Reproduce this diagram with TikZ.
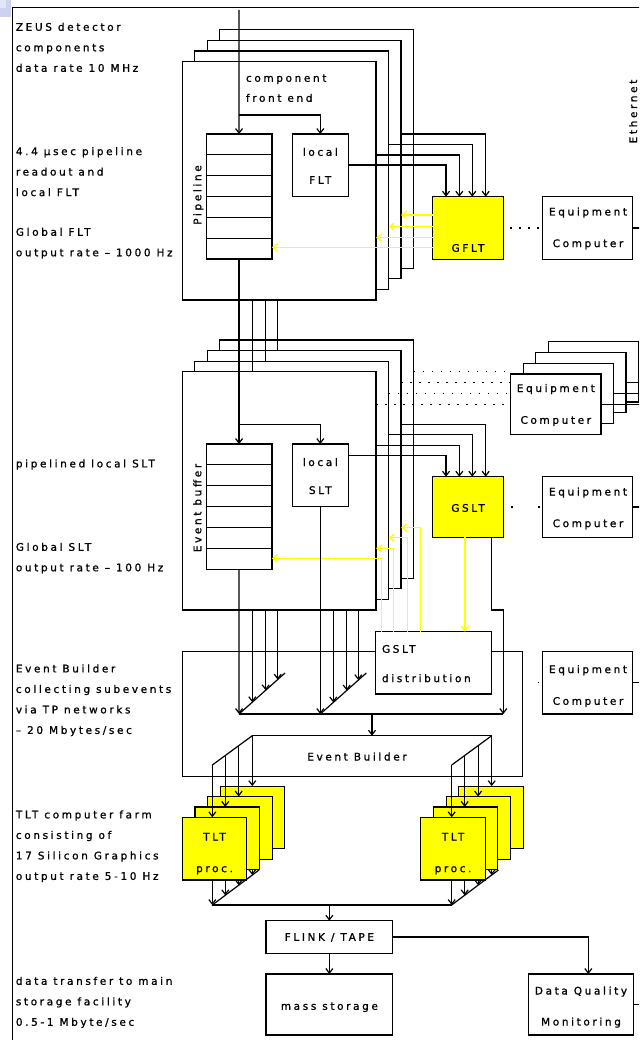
\documentclass[tikz,border=0pt]{standalone}
\usepackage{fontspec}
\newfontfamily\df[LetterSpace=25,FakeBold=1]{DejaVu Sans}
\usetikzlibrary{arrows.meta,calc}
\definecolor{ylw}{RGB}{255,255,0}
\definecolor{cornerA}{RGB}{206,210,236}
\definecolor{cornerB}{RGB}{226,229,246}
\begin{document}
\begin{tikzpicture}[x=1pt,y=-1pt,line width=1.2pt,
 box/.style={draw=black,fill=white,inner sep=0pt,outer sep=0pt,anchor=north west},
 ybox/.style={box,fill=ylw},
 arr/.style={-{Straight Barb[length=4.5pt,width=7pt]}},
 yarr/.style={arr,draw=ylw,line width=1.4pt},
 dotline/.style={dash pattern=on 1.5pt off 7.5pt},
 lbl/.style={font=\df\fontsize{10.5}{12}\selectfont,inner sep=0pt,outer sep=0pt,anchor=base},
 lblw/.style={lbl,anchor=base west},
 para/.style={font=\df\fontsize{10.5}{20.5}\selectfont,inner sep=0pt,align=left,anchor=north west},
 rot/.style={font=\df\fontsize{10.5}{12}\selectfont,inner sep=0pt,rotate=90,text height=8pt,text depth=2.5pt},
 fbox/.style={box,minimum width=193.7pt,minimum height=238.3pt},
 tbox/.style={ybox,minimum width=64.4pt,minimum height=62.7pt},
 ebox/.style={box,minimum width=90.3pt,minimum height=60.3pt},
]
\useasboundingbox (0,0) rectangle (639,1040);
\clip (0,0) rectangle (639,1040);
% slide corner and frame
\fill[cornerA] (0,0) rectangle (10.5,17);
\fill[cornerB] (0,0) rectangle (6,8.5);
\draw[line width=1.2pt] (12.3,1045) -- (12.3,7.3) -- (645,7.3);

% left column texts
\node[para] (t1) at (15.3,22.2) {ZEUS detector\\components\\data rate 10 MHz};
\node[para] (t2) at (15.3,146.5) {4.4 µsec pipeline\\readout and\\local FLT};
\node[para] (t3) at (15.3,227.2) {Global FLT\\output rate – 1000 Hz};
\node[para] (t4) at (15.3,458.8) {pipelined local SLT};
\node[para] (t5) at (15.3,542.2) {Global SLT\\output rate – 100 Hz};
\node[para] (t6) at (15.3,663.8) {Event Builder\\collecting subevents\\via TP networks\\– 20 Mbytes/sec};
\node[para] (t7) at (15.3,809.8) {TLT computer farm\\consisting of\\17 Silicon Graphics\\output rate 5-10 Hz};
\node[para] (t8) at (15.3,976.2) {data transfer to main\\storage facility\\0.5-1 Mbyte/sec};

% ================= stack 1: component front end =================
\foreach \k in {3,2,1}{\node[fbox] (fe\k) at ({182.3+12.5*\k},{61.7-10.6*\k}) {};}
\node[fbox] (fe0) at (182.3,61.7) {};
\node[lblw] (cf1) at (246,81.8) {component};
\node[lblw] (cf2) at (246,101.8) {front end};
\node[box,minimum width=65.7pt,minimum height=125pt] (pl) at (206.2,134) {};
\foreach \i in {1,...,5}{\draw ($(pl.north west)+(0,{20.83*\i})$) -- ($(pl.north east)+(0,{20.83*\i})$);}
\node[rot] (plt) at (198.5,195) {Pipeline};
\node[box,minimum width=56pt,minimum height=62.7pt] (lf) at (292.3,134) {};
\node[lbl] (lf1) at (320.3,155.8) {local};
\node[lbl] (lf2) at (320.3,183.8) {FLT};
\coordinate (in) at (239.05,10);
\draw[arr] (in) -- (pl.north);
\draw[arr] (239.05,115) -| (lf.north);

\node[ybox,minimum width=70.6pt,minimum height=62.6pt] (gf) at (432.7,196.7) {};
\node[lbl] (gft) at (468,251.8) {GFLT};
\draw[arr] (lf.east |- 0,165) -| (446,0 |- gf.north);
\draw[arr] (fe0.east |- 0,155) -| (459.3,0 |- gf.north);
\draw[arr] (fe1.east |- 0,144.3) -| (472.3,0 |- gf.north);
\draw[arr] (fe2.east |- 0,134) -| (485.7,0 |- gf.north);
\draw[yarr] (gf.west |- 0,215) -- (fe2.east |- 0,215);
\draw[yarr] (gf.west |- 0,226.7) -- (fe1.east |- 0,226.7);
\draw[yarr] (gf.west |- 0,237.7) -- (fe0.east |- 0,237.7);
\draw[yarr] (gf.west |- 0,247.3) -- (pl.east |- 0,247.3);

\node[box,minimum width=90pt,minimum height=62.6pt] (eq1) at (542.3,196.7) {};
\node[lbl] at (588,215.5) {Equipment};
\node[lbl] at (588,247.1) {Computer};
\draw[dotline,dash phase=2.3pt] (gf.east) -- (eq1.west);
\draw (eq1.east) -- (645,0 |- eq1.east);
\node[rot] (eth) at (634.3,111.5) {Ethernet};

% ================= stack 2: second level =================
\foreach \k in {3,2,1}{\node[fbox] (sl\k) at ({182.3+12.5*\k},{371.7-10.6*\k}) {};}
\node[fbox] (sl0) at (182.3,371.7) {};
\node[box,minimum width=65.7pt,minimum height=125.3pt] (eb) at (206.2,444) {};
\foreach \i in {1,...,5}{\draw ($(eb.north west)+(0,{20.88*\i})$) -- ($(eb.north east)+(0,{20.88*\i})$);}
\node[rot] (ebt) at (198.5,508) {Event buffer};
\node[box,minimum width=56pt,minimum height=62.7pt] (ls) at (292.3,444) {};
\node[lbl] (ls1) at (320.3,466) {local};
\node[lbl] (ls2) at (320.3,494) {SLT};

\draw[arr] (pl.south) -- (eb.north);
\draw[arr] (239.05,424.5) -| (ls.north);
\draw (252.3,0 |- fe0.south) -- (252.3,0 |- sl0.north);
\draw (265.7,0 |- fe0.south) -- (265.7,0 |- sl1.north);
\draw (277.7,0 |- fe0.south) -- (277.7,0 |- sl2.north);

\node[ybox,minimum width=70.6pt,minimum height=60.6pt] (gs) at (432.7,476.7) {};
\node[lbl] (gst) at (468,511.8) {GSLT};
\draw[arr] (ls.east |- 0,455.7) -| (446,0 |- gs.north);
\draw[arr] (sl0.east |- 0,445.7) -| (459.3,0 |- gs.north);
\draw[arr] (sl1.east |- 0,434.3) -| (472.3,0 |- gs.north);
\draw[arr] (sl2.east |- 0,424.3) -| (485.7,0 |- gs.north);

% equipment computer stack
\foreach \k in {3,2,1}{\node[ebox] (ek\k) at ({510.7+12.5*\k},{374-10.77*\k}) {};}
\node[ebox] (ek0) at (510.7,374) {};
\node[lbl] at (555.8,392) {Equipment};
\node[lbl] at (555.8,423.8) {Computer};
\foreach \k in {0,1,2}{\draw (ek\k.east) -- (645,0 |- ek\k.east);}
\draw[dotline] (sl3.east |- ek3.west) -- (ek0.west |- ek3.west);
\draw[dotline] (sl2.east |- ek2.west) -- (ek0.west |- ek2.west);
\draw[dotline] (sl1.east |- ek1.west) -- (ek0.west |- ek1.west);
\draw[dotline] (sl0.east |- ek0.west) -- (ek0.west);

\node[box,minimum width=90pt,minimum height=60.6pt] (eq2) at (542.3,476.7) {};
\node[lbl] at (588,495.5) {Equipment};
\node[lbl] at (588,527.1) {Computer};
\draw[dash pattern=on 1.5pt off 25.5pt,dash phase=19.3pt] (gs.east) -- (eq2.west);
\draw (eq2.east) -- (645,0 |- eq2.east);

% ================= event builder =================
\node[box,minimum width=340pt,minimum height=125pt] (eo) at (182.3,651.7) {};
\node[box,minimum width=116pt,minimum height=62.3pt] (gd) at (375.7,631.7) {};
\node[lblw] (gd1) at (382,652.8) {GSLT};
\node[lblw] (gd2) at (382,682.1) {distribution};

\draw[yarr] (465,0 |- gs.south) -- (465,0 |- gd.north);
\draw[yarr] (420.7,0 |- gd.north) |- (sl2.east |- 0,527.7);
\draw[yarr] (407.3,0 |- gd.north) |- (sl1.east |- 0,537.7);
\draw[yarr] (393.3,0 |- gd.north) |- (sl0.east |- 0,548.3);
\draw[yarr] (381.7,0 |- gd.north) |- (eb.east |- 0,558.3);

\node[box,minimum width=90pt,minimum height=62.3pt] (eq3) at (542.3,651.7) {};
\node[lbl] at (588,673.1) {Equipment};
\node[lbl] at (588,704.8) {Computer};
\draw[dash pattern=on 1.5pt off 30pt,dash phase=16.3pt] (eo.east |- eq3.west) -- (eq3.west);
\draw (eq3.east) -- (645,0 |- eq3.east);

\coordinate (dA0) at (239.05,714);
\coordinate (dA1) at (285,673);
\coordinate (dB0) at (320.3,714);
\coordinate (dB1) at (366.3,673);
\coordinate (bus2) at (503.3,714);
\draw (dA0) -- (dA1);
\draw (dB0) -- (dB1);
\draw (dA0) -- (bus2);
\draw[arr] (eb.south) -- (dA0);
\draw[arr] (252.3,0 |- sl0.south) -- (252.3,702.2);
\draw[arr] (265.7,0 |- sl0.south) -- (265.7,690.3);
\draw[arr] (277.7,0 |- sl0.south) -- (277.7,679.6);
\draw[arr] (ls.south) -- (dB0);
\draw[arr] (333.3,0 |- sl0.south) -- (333.3,702.4);
\draw[arr] (346.7,0 |- sl0.south) -- (346.7,690.5);
\draw[arr] (358.3,0 |- sl0.south) -- (358.3,680.1);
\draw[arr] (491.7,0 |- gs.south) -- (491.7,610) -| (bus2);

\node[box,minimum width=239.4pt,minimum height=41pt] (ei) at (252.3,735.7) {};
\node[lbl] (eit) at (357,760.5) {Event Builder};
\draw[arr] (ei.north |- dA0) -- (ei.north);

% ================= TLT farms =================
\foreach \k in {3,2,1}{\node[tbox] (tl\k) at ({182.3+12.7*\k},{817.3-10.4*\k}) {};}
\node[tbox] (tl0) at (182.3,817.3) {};
\node[lbl] at (214.5,840.5) {TLT};
\node[lbl] at (214.5,872.1) {proc.};
\foreach \k in {3,2,1}{\node[tbox] (tr\k) at ({420.7+12.7*\k},{817.3-10.4*\k}) {};}
\node[tbox] (tr0) at (420.7,817.3) {};
\node[lbl] at (453.1,840.5) {TLT};
\node[lbl] at (453.1,872.1) {proc.};

\coordinate (eL) at (212.3,765);
\coordinate (eR) at (451.7,765);
\draw (ei.north west) -- (eL);
\draw (ei.north east) -- (eR);
\draw[arr] (eL) -- (212.3,0 |- tl0.north);
\draw[arr] (225.3,755.5) -- (225.3,0 |- tl1.north);
\draw[arr] (238.7,745.7) -- (238.7,0 |- tl2.north);
\draw[arr] (ei.north west) -- (252.3,0 |- tl3.north);
\draw[arr] (eR) -- (451.7,0 |- tr0.north);
\draw[arr] (464.7,755.5) -- (464.7,0 |- tr1.north);
\draw[arr] (478.1,745.7) -- (478.1,0 |- tr2.north);
\draw[arr] (ei.north east) -- (491.7,0 |- tr3.north);

\coordinate (oL0) at (212.3,905);
\coordinate (oL1) at (259,870);
\coordinate (oR0) at (451.7,905);
\coordinate (oR1) at (498.4,870);
\draw (oL0) -- (oL1);
\draw (oR0) -- (oR1);
\draw (oL0) -- (oR0);
\draw[arr] (212.3,0 |- tl0.south) -- (oL0);
\draw[arr] (225.3,0 |- tl0.south) -- (225.3,895.3);
\draw[arr] (238.7,0 |- tl0.south) -- (238.7,885.2);
\draw[arr] (252.3,0 |- tl1.south) -- (252.3,875);
\draw[arr] (451.7,0 |- tr0.south) -- (oR0);
\draw[arr] (464.7,0 |- tr0.south) -- (464.7,895.3);
\draw[arr] (478.1,0 |- tr0.south) -- (478.1,885.2);
\draw[arr] (491.7,0 |- tr1.south) -- (491.7,875);

% ================= storage =================
\node[box,minimum width=126.7pt,minimum height=32.6pt] (fl) at (266,920.7) {};
\node[lbl] (flt) at (329.4,940.8) {FLINK / TAPE};
\node[box,minimum width=126.7pt,minimum height=61pt] (ms) at (266,974) {};
\node[lbl] (mst) at (329.4,1009.8) {mass storage};
\node[box,minimum width=105pt,minimum height=61pt] (dq) at (528.3,974) {};
\node[lbl] (dq1) at (581,994.5) {Data Quality};
\node[lbl] (dq2) at (581,1025.5) {Monitoring};
\draw[arr] (fl.north |- oL0) -- (fl.north);
\draw[arr] (fl.south) -- (ms.north);
\draw[arr] (fl.east) -| (588.3,0 |- dq.north);
\draw (dq.east) -- (645,0 |- dq.east);
\end{tikzpicture}
\end{document}
